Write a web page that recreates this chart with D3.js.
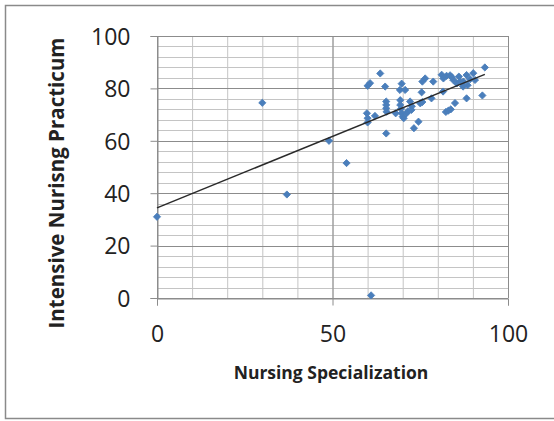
<!DOCTYPE html>
<html>
<head>
<meta charset="utf-8">
<script src="https://cdn.jsdelivr.net/npm/d3@7"></script>
<style>
  html, body { margin: 0; padding: 0; background: #fff; }
  svg { display: block; }
</style>
</head>
<body>
<svg id="chart" width="554" height="421"></svg>
<script>
// Data
const nursingSpecialization = [
  0, 30, 37, 49, 54, 61,
  60, 60.7, 63.6,
  59.8, 60, 62.1, 60,
  65, 65.3, 65.3, 65.3, 65.4, 65.3,
  69.7, 69.2, 70.7,
  69.3, 69.3, 69.5, 69.7, 70, 70.3, 68,
  72.1, 72.6, 71.5, 72.5, 71.1,
  74.5, 73.2,
  75, 75.6, 75.4, 75.6, 76.4, 78.7, 78.2,
  81.1, 81.6, 82.5, 83.5, 84.4, 85.4, 86.4, 87.3, 88.2, 89.2, 90.1, 90.6, 86, 84, 88.5, 87.2,
  81.5,
  82.3, 83, 83.7,
  84.9, 88.2, 92.7, 93.4
];
const intensivePracticum = [
  31, 74.5, 39.5, 60, 51.5, 1,
  81, 82, 85.7,
  70.5, 68.6, 69.5, 67,
  80.7, 75, 73.7, 72.4, 71.1, 62.8,
  81.8, 79.4, 79.4,
  75.5, 73.7, 72.2, 70.5, 69.2, 68.6, 70.5,
  75, 73.2, 71.3, 71.8, 70.5,
  67.3, 64.8,
  74.3, 74.8, 78.5, 82.6, 83.8, 82.6, 76.2,
  85.2, 83.8, 84.8, 85, 83.2, 81.9, 82.6, 82.6, 85.1, 83.5, 85.8, 83.2, 84.5, 84.3, 81.2, 80.7,
  78.8,
  71, 71.5, 72,
  74.4, 76.2, 77.3, 88
];
const xTicks = [0, 50, 100];
const yTicks = [0, 20, 40, 60, 80, 100];
const xTitle = "Nursing Specialization";
const yTitle = "Intensive Nurisng Practicum";

const svg = d3.select("#chart");
const font = "'Open Sans', 'Liberation Sans', sans-serif";

// outer chart border
svg.append("rect")
  .attr("x", 5.5).attr("y", 5.5)
  .attr("width", 560).attr("height", 413)
  .attr("fill", "#fff")
  .attr("stroke", "#8a8a8a").attr("stroke-width", 1.5);

const x = d3.scaleLinear().domain([0, 100]).range([157, 508]);
const y = d3.scaleLinear().domain([0, 100]).range([298, 36]);

const g = svg.append("g");

// minor gridlines
const xMinor = d3.range(0, 101, 10);
const yMinor = d3.range(0, 101, 4);
g.selectAll(".vminor").data(xMinor).enter().append("line")
  .attr("x1", d => x(d) + 0.5).attr("x2", d => x(d) + 0.5)
  .attr("y1", y(100)).attr("y2", y(0))
  .attr("stroke", "#c4c4c4").attr("stroke-width", 1);
g.selectAll(".hminor").data(yMinor).enter().append("line")
  .attr("x1", x(0)).attr("x2", x(100))
  .attr("y1", d => Math.round(y(d)) + 0.5).attr("y2", d => Math.round(y(d)) + 0.5)
  .attr("stroke", "#c4c4c4").attr("stroke-width", 1);

// major gridlines
g.selectAll(".vmajor").data(xTicks).enter().append("line")
  .attr("x1", d => x(d) + 0.5).attr("x2", d => x(d) + 0.5)
  .attr("y1", y(100)).attr("y2", y(0))
  .attr("stroke", "#8c8c8c").attr("stroke-width", 1);
g.selectAll(".hmajor").data(yTicks).enter().append("line")
  .attr("x1", x(0)).attr("x2", x(100))
  .attr("y1", d => Math.round(y(d)) + 0.5).attr("y2", d => Math.round(y(d)) + 0.5)
  .attr("stroke", "#8c8c8c").attr("stroke-width", 1);

// axes
const yAxis = d3.axisLeft(y).tickValues(yTicks).tickSize(7).tickPadding(20);
const xAxis = d3.axisBottom(x).tickValues(xTicks).tickSize(7).tickPadding(18);

const ya = svg.append("g").attr("transform", `translate(${x(0) + 0.5},0)`).call(yAxis);
const xa = svg.append("g").attr("transform", `translate(0,${Math.round(y(0)) + 0.5})`).call(xAxis);
[ya, xa].forEach(a => {
  a.select(".domain").attr("stroke", "#8c8c8c");
  a.selectAll(".tick line").attr("stroke", "#8c8c8c");
  a.selectAll(".tick text")
    .attr("font-family", font).attr("font-size", 23).attr("fill", "#222");
});
ya.selectAll(".tick text").attr("dy", "0.36em");
xa.selectAll(".tick text").attr("dy", "0.36em").attr("y", 35);

// trendline (linear regression)
const n = nursingSpecialization.length;
const mx = d3.mean(nursingSpecialization), my = d3.mean(intensivePracticum);
let sxy = 0, sxx = 0;
for (let i = 0; i < n; i++) {
  sxy += (nursingSpecialization[i] - mx) * (intensivePracticum[i] - my);
  sxx += (nursingSpecialization[i] - mx) ** 2;
}
const slope = sxy / sxx, intercept = my - slope * mx;
const xMin = d3.min(nursingSpecialization), xMax = d3.max(nursingSpecialization);

// points
const pts = nursingSpecialization.map((v, i) => [v, intensivePracticum[i]]);
svg.append("g").selectAll("path").data(pts).enter().append("path")
  .attr("d", d3.symbol().type(d3.symbolSquare).size(26))
  .attr("transform", d => `translate(${x(d[0])},${y(d[1])}) rotate(45)`)
  .attr("fill", "#4a7ebb")
  .attr("stroke", "#4a7ebb").attr("stroke-width", 0.8).attr("stroke-linejoin", "round");

svg.append("line")
  .attr("x1", x(xMin)).attr("y1", y(intercept + slope * xMin))
  .attr("x2", x(xMax)).attr("y2", y(intercept + slope * xMax))
  .attr("stroke", "#2a2a2a").attr("stroke-width", 1.5);

// titles
svg.append("text")
  .attr("x", 331).attr("y", 379)
  .attr("text-anchor", "middle")
  .attr("font-family", font).attr("font-weight", "bold").attr("font-size", 17.5)
  .attr("fill", "#222")
  .text(xTitle);

svg.append("text")
  .attr("transform", "translate(64,183) rotate(-90)")
  .attr("text-anchor", "middle")
  .attr("font-family", font).attr("font-weight", "bold").attr("font-size", 20.5)
  .attr("fill", "#222")
  .text(yTitle);
</script>
</body>
</html>
